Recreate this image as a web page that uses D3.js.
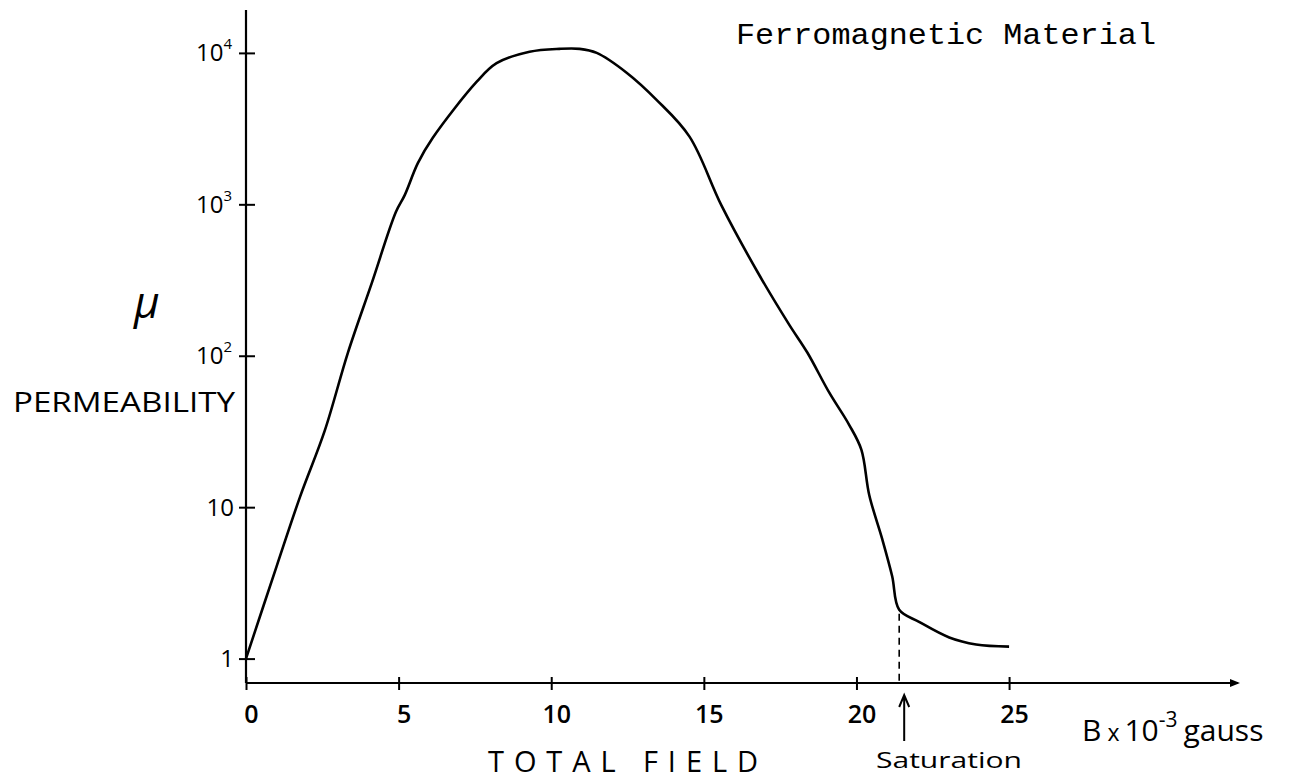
<!DOCTYPE html>
<html lang="en">

<head>
  <meta charset="UTF-8">
  <title>Ferromagnetic Material</title>
  <style>
    body { margin: 0; background: #fff; }
    svg { display: block; }
  </style>
</head>

<body>
  <script src="https://cdnjs.cloudflare.com/ajax/libs/d3/7.8.5/d3.min.js"></script>
  <script>

    // total field B (x 10^-3 gauss) and permeability
    let fieldB = [0, 1.0, 1.77, 2.58, 3.34, 4.12, 4.91, 5.2, 5.63, 6.12, 7.56, 8.21, 9.29, 10.27, 10.93,
      11.49, 12.47, 13.45, 14.53, 15.58, 16.82, 17.8, 18.39, 19.11, 19.76, 20.16, 20.42,
      20.84, 21.17, 21.4, 22.05, 23.04, 23.92, 25.0]
    let permeability = [1, 4.05, 11.7, 32, 105, 302, 890, 1150, 1870, 2750, 6450, 8550, 10170, 10630, 10630,
      10000, 7400, 4900, 2800, 980, 340, 160, 105, 57, 35, 24, 12,
      6.2, 3.5, 2.1, 1.75, 1.38, 1.24, 1.2]

    let xTicks = [0, 5, 10, 15, 20, 25]
    let yTicks = [1, 10, 100, 1000, 10000]
    let yTickBase = ['1', '10', '10', '10', '10']
    let yTickExp = ['', '', '2', '3', '4']
    let saturationB = 21.4

    let width = 1291
    let height = 780
    let hand = '"Open Sans", "DejaVu Sans", sans-serif'

    let svg = d3.select('body')
      .append('svg')
      .attr('width', width)
      .attr('height', height)

    // axis extents in data units (axes run a bit past the data)
    let x = d3.scaleLinear().domain([0, 32.5]).range([246, 1238])
    let y = d3.scaleLog().domain([0.69, 19200]).range([683, 10])
    let y0 = y.domain()[0]

    // x axis
    let xAxis = d3.axisBottom(x).tickValues(xTicks).tickSize(0).tickFormat(d3.format('d'))
    let gx = svg.append('g')
      .attr('transform', `translate(0,${y(y0)})`)
      .call(xAxis)
    gx.select('.domain').remove()
    gx.append('line')
      .attr('x1', x(0)).attr('x2', x.range()[1])
      .attr('stroke', '#000').attr('stroke-width', 2.2)
    gx.selectAll('.tick').append('line')
      .attr('y1', -6).attr('y2', 7)
      .attr('stroke', '#000').attr('stroke-width', 2)
    gx.selectAll('.tick text')
      .attr('x', 5)
      .attr('y', 40)
      .attr('dy', 0)
      .attr('fill', '#000')
      .style('font-family', hand)
      .style('font-weight', 600)
      .style('font-size', '25px')
    gx.append('path')
      .attr('d', `M${x.range()[1] - 8},-4 L${x.range()[1] + 2},0 L${x.range()[1] - 8},4 Z`)
      .attr('fill', '#000')

    // y axis
    let yAxis = d3.axisLeft(y).tickValues(yTicks).tickSize(0).tickFormat('')
    let gy = svg.append('g')
      .attr('transform', `translate(${x(0)},0)`)
      .call(yAxis)
    gy.select('.domain').remove()
    gy.append('line')
      .attr('y1', y.range()[0]).attr('y2', y.range()[1])
      .attr('stroke', '#000').attr('stroke-width', 2.2)
    gy.selectAll('.tick').append('line')
      .attr('x1', -7).attr('x2', 9)
      .attr('stroke', '#000').attr('stroke-width', 2)
    gy.selectAll('.tick text').remove()
    gy.selectAll('.tick').each(function (d, i) {
      let t = d3.select(this).append('text')
        .attr('x', yTickExp[i] ? -14 : -12)
        .attr('y', 8)
        .attr('text-anchor', 'end')
        .attr('fill', '#000')
        .style('font-family', hand)
        .style('font-size', '24px')
      t.append('tspan').text(yTickBase[i])
      if (yTickExp[i]) {
        t.append('tspan').attr('dy', -12).style('font-size', '15px').text(yTickExp[i])
      }
    })

    // the curve
    let line = d3.line()
      .x(function (d, i) { return x(fieldB[i]) })
      .y(function (d) { return y(d) })
      .curve(d3.curveCatmullRom.alpha(0.5))

    svg.append('path')
      .datum(permeability)
      .attr('d', line)
      .attr('fill', 'none')
      .attr('stroke', '#000')
      .attr('stroke-width', 2.6)
      .attr('stroke-linejoin', 'round')

    // saturation marker
    let satMu = permeability[fieldB.indexOf(saturationB)]
    svg.append('line')
      .attr('x1', x(saturationB)).attr('x2', x(saturationB))
      .attr('y1', y(satMu) + 4).attr('y2', y(y0))
      .attr('stroke', '#000').attr('stroke-width', 1.6)
      .attr('stroke-dasharray', '7,5')

    let ax = x(saturationB) + 5
    svg.append('path')
      .attr('d', `M${ax},741 L${ax},695 M${ax - 5},707 L${ax},695 L${ax + 5},707`)
      .attr('fill', 'none')
      .attr('stroke', '#000')
      .attr('stroke-width', 2)

    svg.append('text')
      .attr('x', 876).attr('y', 768)
      .attr('textLength', 146).attr('lengthAdjust', 'spacingAndGlyphs')
      .style('font-family', hand).style('font-size', '22px')
      .text('Saturation')

    // axis titles
    svg.append('text')
      .attr('x', 488).attr('y', 772)
      .attr('textLength', 270).attr('lengthAdjust', 'spacing')
      .style('font-family', hand).style('font-size', '29px')
      .text('TOTAL FIELD')

    let unit = svg.append('text')
      .attr('x', 1082).attr('y', 741)
      .style('font-family', hand).style('font-size', '30px')
    unit.append('tspan').text('B')
    unit.append('tspan').attr('dx', 6).style('font-size', '23px').text('x')
    unit.append('tspan').attr('dx', 5).text('10')
    unit.append('tspan').attr('dy', -14).style('font-size', '21px').text('-3')
    unit.append('tspan').attr('dy', 14).attr('dx', 6).text('gauss')

    svg.append('text')
      .attr('x', 13).attr('y', 412)
      .attr('textLength', 222).attr('lengthAdjust', 'spacingAndGlyphs')
      .style('font-family', hand).style('font-size', '27px')
      .text('PERMEABILITY')

    svg.append('text')
      .attr('x', 134).attr('y', 318)
      .style('font-family', hand).style('font-size', '44px')
      .style('font-style', 'italic')
      .text('μ')

    // typed title
    svg.append('text')
      .attr('x', 736).attr('y', 44)
      .attr('textLength', 420).attr('lengthAdjust', 'spacingAndGlyphs')
      .style('font-family', '"Liberation Mono", "DejaVu Sans Mono", monospace')
      .style('font-size', '30px')
      .text('Ferromagnetic Material')

  </script>
</body>

</html>
